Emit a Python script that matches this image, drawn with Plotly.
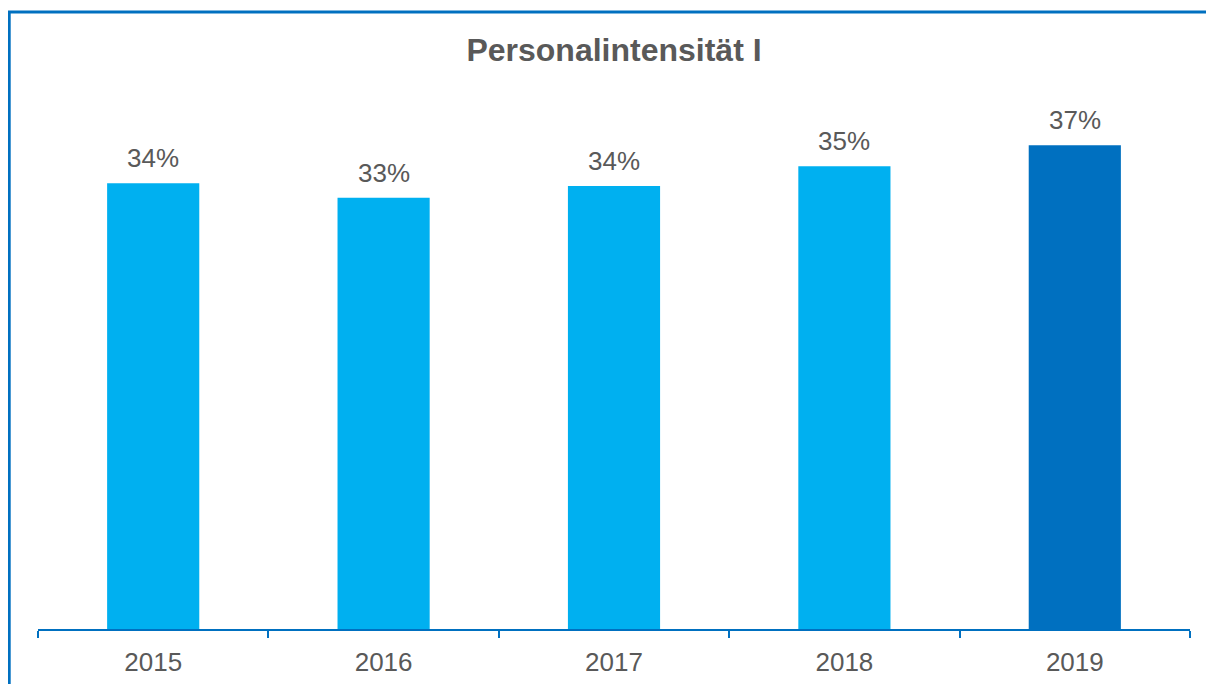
import plotly.graph_objects as go

years = ["2015", "2016", "2017", "2018", "2019"]
values = [0.341, 0.330, 0.339, 0.354, 0.370]
bar_colors = ["#00B0F0", "#00B0F0", "#00B0F0", "#00B0F0", "#0070C0"]
title_text = "Personalintensität I"

# the page body adds an 8px margin around the figure
W, H = 1214, 684
ml, mt, mb = 30, 72, 63
plot_w = 1152
mr = W - ml - plot_w
plot_h = H - mt - mb
y_max = 0.42

FONT = "Liberation Sans, Arial, sans-serif"

fig = go.Figure()
fig.add_trace(go.Bar(
    x=years, y=values,
    marker=dict(color=bar_colors, line=dict(width=0)),
    width=0.4,
    hoverinfo="skip",
))

# value labels: positioned by category index on the category axis
for i, v in enumerate(values):
    fig.add_annotation(
        x=i, y=v, xref="x", yref="y",
        text=f"{v:.0%}", showarrow=False,
        yanchor="bottom", yshift=8,
        font=dict(family=FONT, size=26, color="#595959"),
    )

# outer frame (left and top visible; right/bottom run off the picture)
px_left = (1.2 - ml) / plot_w
py_top = ((H - mb) - 3.9) / plot_h
fig.add_shape(type="rect", xref="paper", yref="paper",
              x0=px_left, x1=1.2, y0=-0.3, y1=py_top,
              line=dict(color="#0070C0", width=3), fillcolor="rgba(0,0,0,0)", layer="above")

fig.update_layout(
    width=W, height=H,
    margin=dict(l=ml, r=mr, t=mt, b=mb, autoexpand=False),
    paper_bgcolor="white", plot_bgcolor="white",
    showlegend=False,
    title=dict(text=f"<b>{title_text}</b>", x=0.5, xref="paper", xanchor="center",
               y=1 - 42 / H, yref="container", yanchor="middle",
               font=dict(family=FONT, size=32, color="#595959")),
    xaxis=dict(
        type="category",
        categoryorder="array", categoryarray=years,
        range=[-0.5, len(years) - 0.5],
        showline=True, linecolor="#0070C0", linewidth=2,
        ticks="outside", tickson="boundaries", ticklen=7, tickwidth=2, tickcolor="#0070C0",
        tickangle=0, ticklabelstandoff=9,
        tickfont=dict(family=FONT, size=26, color="#595959"),
        showgrid=False, zeroline=False,
    ),
    yaxis=dict(range=[0, y_max], visible=False, showgrid=False, zeroline=False),
)

fig.write_html("out.html")
